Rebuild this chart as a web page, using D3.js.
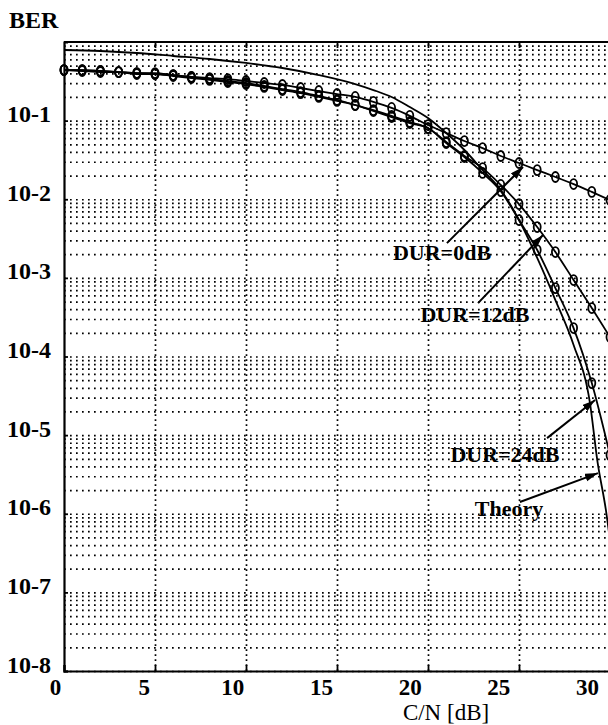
<!DOCTYPE html>
<html><head>
<meta charset="utf-8">
<script src="https://d3js.org/d3.v7.min.js"></script>
<style>
  body { margin: 0; background: #fff; }
  svg text { font-family: "Liberation Serif", "Times New Roman", serif; fill: #000; }
  .gridlines line { stroke: #000; stroke-width: 1.7; stroke-dasharray: 1.7 4.3; }
  .gridlines.x line { stroke-dasharray: 1.7 3.3; }
  .gridlines .domain { stroke: none; }
  .frame line, .axis .domain { stroke: #000; stroke-width: 2.2; }
  .axis line { stroke: #000; stroke-width: 1.8; }
  .axis text { font-size: 24px; font-weight: bold; }
  .x.axis text { font-size: 23px; }
  .curve { fill: none; stroke: #000; stroke-width: 1.8; }
  .mark { fill: none; stroke: #000; stroke-width: 1.8; }
  .note text { font-size: 22px; font-weight: bold; }
  .note line { stroke: #000; stroke-width: 2; }
</style>
</head>
<body>
<svg id="svg1" width="608" height="725"></svg>
<script>

// C/N [dB] where the measured points sit
const cnDB = [0,1,2,3,4,5,6,7,8,9,10,11,12,13,14,15,16,17,18,19,20,21,22,23,24,25,26,27,28,29,30];

const berDUR0 = [0.440,0.440,0.428,0.415,0.403,0.403,0.380,0.359,0.348,0.338,0.319,
                 0.301,0.284,0.260,0.238,0.218,0.200,0.173,0.145,0.115,0.0879,
                 0.0695,0.0550,0.0448,0.0355,0.0289,0.0235,0.0192,0.0156,0.0124,0.00977];

const berDUR12 = [0.440,0.440,0.428,0.415,0.403,0.392,0.380,0.359,0.338,0.319,0.301,
                  0.276,0.252,0.231,0.206,0.183,0.158,0.136,0.115,0.0960,0.0805,
                  0.0534,0.0355,0.0249,0.0152,0.00869,0.00443,0.00213,9.38e-4,4.13e-4,1.77e-4];

const berDUR24 = [0.440,0.428,0.415,0.415,0.392,0.392,0.369,0.348,0.329,0.310,0.292,
                  0.268,0.245,0.224,0.200,0.178,0.158,0.1325,0.111,0.0932,0.0805,
                  0.0519,0.0344,0.0216,0.0127,0.00544,0.00226,7.41e-4,2.30e-4,4.59e-5,5.57e-6];

// theory curve (no markers)
const theoryDB  = [0,2,4,6,8,10,12,14,16,17,18,19,20,21,22,23,24,25,26,27,28,28.9,29.3,29.8,30];
const berTheory = [0.791,0.768,0.725,0.664,0.608,0.541,0.467,0.380,0.292,0.245,0.200,0.149,0.108,
                   0.0695,0.0423,0.0235,0.0131,0.00544,0.00179,5.22e-4,1.40e-4,2.55e-5,4.81e-6,1.02e-6,4.6e-7];

const xTicks = [0,5,10,15,20,25,30];
const xGrid = [5,10,15,20,25];
const yDecades = [1e-1,1e-2,1e-3,1e-4,1e-5,1e-6,1e-7,1e-8];
const yLabels = ["10-1","10-2","10-3","10-4","10-5","10-6","10-7","10-8"];

// annotation: label at (dB, BER) baseline centre, arrow from -> to
const noteText = ["DUR=0dB","DUR=12dB","DUR=24dB","Theory"];
const noteAt   = [[20.77,0.00168],[22.58,2.74e-4],[24.23,4.53e-6],[24.45,9.32e-7]];
const noteFrom = [[21.04,0.00277],[22.75,4.78e-4],[26.54,9.16e-6],[25.05,1.41e-6]];
const noteTo   = [[25.22,0.0257],[26.32,0.00351],[29.18,2.79e-5],[29.34,3.29e-6]];

let svg1 = d3.select("svg#svg1");
const margins = {top: 42, left: 64, bottom: 54};
const chWidth = 546;
const chHeight = 725 - margins.top - margins.bottom;

let xScale = d3.scaleLinear().domain([0,30]).range([0, chWidth]);
let labelScale = d3.scaleLinear().domain([0,30]).range([55 - margins.left, 587 - margins.left]);
let yScale = d3.scaleLog().domain([1,1e-8]).range([0, chHeight]);

let annotations = svg1.append("g")
                      .attr("transform",`translate(${margins.left},${margins.top})`);

// horizontal dotted grid at every 1..9 x 10^k
let leftGrid = d3.axisLeft(yScale).tickValues(yScale.ticks().filter(v => v < 1))
                 .tickSize(-chWidth).tickFormat("");
annotations.append("g").attr("class","y gridlines").call(leftGrid);

let bottomGrid = d3.axisBottom(xScale).tickValues(xGrid).tickSize(-chHeight).tickFormat("");
annotations.append("g").attr("class","x gridlines")
           .attr("transform",`translate(0,${chHeight})`).call(bottomGrid);

// frame
let frame = annotations.append("g").attr("class","frame");
frame.append("line").attr("x1",0).attr("x2",chWidth).attr("y1",0).attr("y2",0);

// left axis
let leftAxis = d3.axisLeft(yScale).tickValues(yDecades).tickSize(-4)
                 .tickFormat((d,i) => yLabels[i]);
let gLeft = annotations.append("g").attr("class","y axis").call(leftAxis);
gLeft.selectAll("text").attr("x", 7 - margins.left).attr("dy", 1).attr("text-anchor","start");

// bottom axis
let bottomAxis = d3.axisBottom(xScale).tickValues(xTicks).tickSize(-6).tickFormat(d => "" + d);
let gBottom = annotations.append("g").attr("class","x axis")
                 .attr("transform",`translate(0,${chHeight})`).call(bottomAxis);
gBottom.selectAll(".tick text")
       .attr("transform", d => `translate(${labelScale(d) - xScale(d)},0)`)
       .attr("y", 24).attr("dy", 0);

// top ticks
let topAxis = d3.axisTop(xScale).tickValues(xGrid).tickSize(-6).tickFormat("");
annotations.append("g").attr("class","x axis").call(topAxis).select(".domain").remove();

svg1.append("text").attr("x", 9).attr("y", 28)
    .style("font-size","24px").style("font-weight","bold").text("BER");

svg1.append("text").attr("x", 446).attr("y", 720).attr("text-anchor","middle")
    .style("font-size","23px").text("C/N [dB]");

// curves
let chartArea = annotations.append("g");
let lineGen = d3.line().x(d => xScale(d[0])).y(d => yScale(d[1])).curve(d3.curveMonotoneX);

const series = [berDUR0, berDUR12, berDUR24].map(b => cnDB.map((c,i) => [c, b[i]]));
const theory = theoryDB.map((c,i) => [c, berTheory[i]]);

chartArea.append("path").attr("class","curve").attr("d", lineGen(theory));

let gSeries = chartArea.selectAll("g.series").data(series).join("g").attr("class","series");
gSeries.append("path").attr("class","curve").attr("d", d => lineGen(d));
gSeries.selectAll("ellipse").data(d => d).join("ellipse")
       .attr("class","mark")
       .attr("cx", d => xScale(d[0])).attr("cy", d => yScale(d[1]))
       .attr("rx", 3.5).attr("ry", 5);

// arrows + labels
svg1.append("defs").append("marker")
    .attr("id","head").attr("markerUnits","userSpaceOnUse")
    .attr("markerWidth",14).attr("markerHeight",10).attr("refX",13).attr("refY",4)
    .attr("orient","auto")
    .append("path").attr("d","M0,0 L13,4 L0,8 Z").attr("fill","#000");

let notes = annotations.selectAll("g.note").data(noteText).join("g").attr("class","note");
notes.append("line")
     .attr("x1", (d,i) => xScale(noteFrom[i][0])).attr("y1", (d,i) => yScale(noteFrom[i][1]))
     .attr("x2", (d,i) => xScale(noteTo[i][0])).attr("y2", (d,i) => yScale(noteTo[i][1]))
     .attr("marker-end","url(#head)");
notes.append("text")
     .attr("x", (d,i) => xScale(noteAt[i][0])).attr("y", (d,i) => yScale(noteAt[i][1]))
     .attr("text-anchor","middle")
     .text(d => d);

</script>
</body>
</html>
